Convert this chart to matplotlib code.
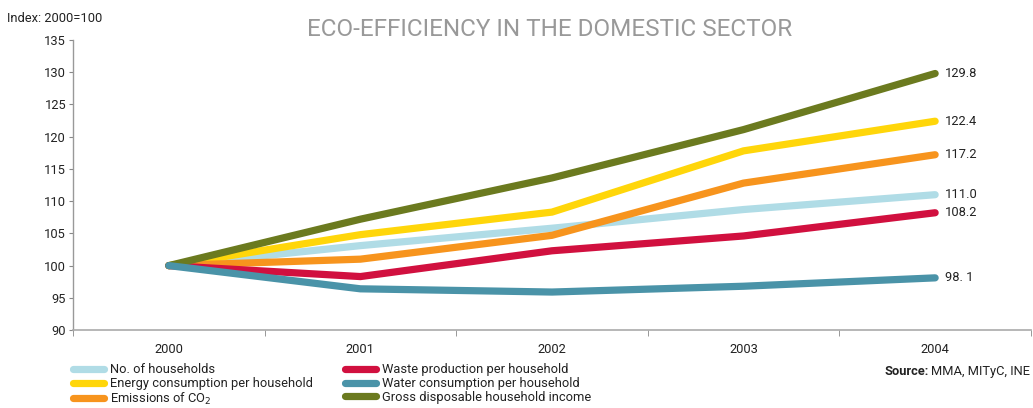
import matplotlib.pyplot as plt
import numpy as np

plt.rcParams['font.family'] = ['Roboto', 'DejaVu Sans']

years = ['2000', '2001', '2002', '2003', '2004']

households = [100, 103.1, 105.8, 108.7, 111.0]
energy = [100, 104.8, 108.3, 117.8, 122.4]
emissions = [100, 101.0, 104.7, 112.8, 117.2]
waste = [100, 98.3, 102.3, 104.6, 108.2]
water = [100, 96.4, 95.9, 96.8, 98.1]
income = [100, 107.2, 113.6, 121.1, 129.8]

end_labels = ['111.0', '122.4', '117.2', '108.2', '98. 1', '129.8']

series = [
    ('No. of households', households, '#b0dce6'),
    ('Energy consumption per household', energy, '#ffd60a'),
    ('Emissions of CO$_2$', emissions, '#f7941d'),
    ('Waste production per household', waste, '#d1103f'),
    ('Water consumption per household', water, '#4a93a8'),
    ('Gross disposable household income', income, '#6b7a1f'),
]
# drawing order (water sits on top at the common start point)
z_order = [1, 2, 3, 4, 6, 5]

fig = plt.figure(figsize=(10.33, 4.08), dpi=100)
ax = fig.add_axes([0.0707, 0.191, 0.9273, 0.711])

x = np.arange(len(years))
handles = []
for (name, vals, color), z, lab in zip(series, z_order, end_labels):
    h, = ax.plot(x, vals, color=color, lw=5.2, solid_capstyle='round',
                 solid_joinstyle='miter', label=name, zorder=z)
    handles.append(h)
    ax.text(x[-1] + 0.05, vals[-1], lab, fontsize=9.3, color='#222222',
            va='center', ha='left')

ax.set_xlim(-0.5, 4.5)
ax.set_ylim(90, 135)
ax.set_yticks(np.arange(90, 136, 5))
ax.set_xticks(x)
ax.set_xticklabels(years)
ax.set_xticks(np.arange(-0.5, 4.6, 1), minor=True)

ax.tick_params(axis='y', labelsize=9.3, length=3, color='#888888',
               labelcolor='#222222', pad=2)
ax.tick_params(axis='x', which='major', length=0, labelsize=9.3,
               labelcolor='#222222', pad=9)
ax.tick_params(axis='x', which='minor', length=4, color='#888888',
               direction='out')

for side in ['top', 'right']:
    ax.spines[side].set_visible(False)
ax.spines['left'].set_color('#999999')
ax.spines['bottom'].set_color('#aaaaaa')
ax.spines['left'].set_linewidth(1.0)
ax.spines['bottom'].set_linewidth(1.2)

fig.text(0.007, 0.955, 'Index: 2000=100', fontsize=9.3, color='#222222',
         va='center', ha='left')
fig.text(0.532, 0.928, 'ECO-EFFICIENCY IN THE DOMESTIC SECTOR', fontsize=17.5,
         color='#999999', va='center', ha='center')

# source line: bold prefix placed just left of the plain part
src = fig.text(0.9975, 0.09, 'MMA, MITyC, INE', fontsize=9.3, color='#222222',
               va='center', ha='right')
renderer = fig.canvas.get_renderer()
bb = src.get_window_extent(renderer=renderer)
fig.text((bb.x0 - 3) / fig.bbox.width, 0.09, 'Source:', fontsize=9.3,
         color='#222222', fontweight='bold', va='center', ha='right')

leg = fig.legend(handles, [s[0] for s in series],
                 ncol=2, loc='upper left', bbox_to_anchor=(0.064, 0.125),
                 frameon=False, fontsize=9.3, handlelength=2.45,
                 handletextpad=0.45, columnspacing=2.45, labelspacing=0.05,
                 borderpad=0)
for t in leg.get_texts():
    t.set_color('#222222')

fig.savefig('out.png', dpi=100)
